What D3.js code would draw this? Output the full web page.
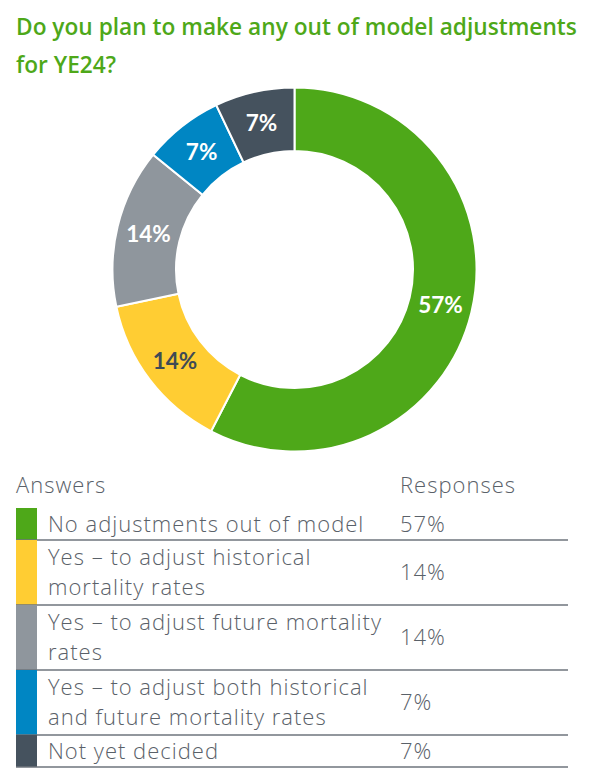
<!DOCTYPE html>
<html>
<head>
<meta charset="utf-8">
<script src="https://cdn.jsdelivr.net/npm/d3@7"></script>
<style>
  html, body { margin: 0; padding: 0; background: #ffffff; }
  svg { display: block; }
</style>
</head>
<body>
<svg id="chart" width="592" height="778"></svg>
<script>
// ---- data ----
const titleLines = ["Do you plan to make any out of model adjustments", "for YE24?"];
const categories = [
  "No adjustments out of model",
  "Yes – to adjust historical\nmortality rates",
  "Yes – to adjust future mortality\nrates",
  "Yes – to adjust both historical\nand future mortality rates",
  "Not yet decided"
];
const values = [57, 14, 14, 7, 7];
const colors = ["#4ea819", "#ffcd33", "#8f969d", "#0086c3", "#45525e"];
const labelColors = ["#ffffff", "#3f4a55", "#ffffff", "#ffffff", "#ffffff"];
const headers = ["Answers", "Responses"];

// ---- layout ----
const W = 592, H = 778;
const svg = d3.select("#chart");
const fontTitle = "'Open Sans', Lato, sans-serif";
const fontBody = "'Open Sans', Lato, sans-serif";
const fontLabel = "Lato, 'Open Sans', sans-serif";

// title
svg.append("g").selectAll("text").data(titleLines).join("text")
  .attr("x", 16)
  .attr("y", (d, i) => 35 + i * 38)
  .attr("fill", "#4ea819")
  .attr("font-family", fontTitle)
  .attr("font-weight", 600)
  .attr("font-size", 22.7)
  .text(d => d);

// donut
const cx = 294.5, cy = 269.5, rOuter = 182, rInner = 118.5;
const pie = d3.pie().sort(null).value(d => d)(values);
const arc = d3.arc().innerRadius(rInner).outerRadius(rOuter);
const g = svg.append("g").attr("transform", `translate(${cx},${cy})`);
g.selectAll("path").data(pie).join("path")
  .attr("d", arc)
  .attr("fill", (d, i) => colors[i])
  .attr("stroke", "#ffffff")
  .attr("stroke-width", 2);
g.selectAll("text").data(pie).join("text")
  .attr("transform", d => `translate(${arc.centroid(d)})`)
  .attr("text-anchor", "middle")
  .attr("dy", "0.36em")
  .attr("fill", (d, i) => labelColors[i])
  .attr("font-family", fontLabel)
  .attr("font-weight", 700)
  .attr("font-size", 22.5)
  .text(d => d.value + "%");

// table
const tX = 16, barW = 21, textX = 48, valX = 400, tRight = 568;
const headerBase = 493;
const lineH = 30;
const singleH = 32, padH = 5;
const txtColor = "#5a6169";
const bodySize = 22, bodySpacing = 1.0;
svg.append("text").attr("x", tX).attr("y", headerBase)
  .attr("fill", txtColor).attr("font-family", fontBody).attr("font-weight", 300)
  .attr("font-size", bodySize).attr("letter-spacing", bodySpacing).text(headers[0]);
svg.append("text").attr("x", valX).attr("y", headerBase)
  .attr("fill", txtColor).attr("font-family", fontBody).attr("font-weight", 300)
  .attr("font-size", bodySize).attr("letter-spacing", bodySpacing).text(headers[1]);

let y0 = 508;
categories.forEach((c, i) => {
  const lines = c.split("\n");
  const h = lines.length === 1 ? singleH : lines.length * lineH + padH;
  const row = svg.append("g");
  row.append("rect").attr("x", tX).attr("y", y0).attr("width", barW).attr("height", h)
    .attr("fill", colors[i]);
  const mid = y0 + h / 2;
  lines.forEach((ln, j) => {
    row.append("text")
      .attr("x", textX)
      .attr("y", mid + (j - (lines.length - 1) / 2) * lineH)
      .attr("dy", "0.35em")
      .attr("fill", txtColor).attr("font-family", fontBody).attr("font-weight", 300)
      .attr("font-size", bodySize).attr("letter-spacing", bodySpacing).text(ln);
  });
  row.append("text").attr("x", valX).attr("y", mid).attr("dy", "0.35em")
    .attr("fill", txtColor).attr("font-family", fontBody).attr("font-weight", 300)
    .attr("font-size", bodySize).attr("letter-spacing", bodySpacing).text(values[i] + "%");
  y0 += h;
  row.append("line").attr("x1", tX).attr("x2", tRight).attr("y1", y0).attr("y2", y0)
    .attr("stroke", "#6e757c").attr("stroke-width", 1.5);
});
</script>
</body>
</html>
